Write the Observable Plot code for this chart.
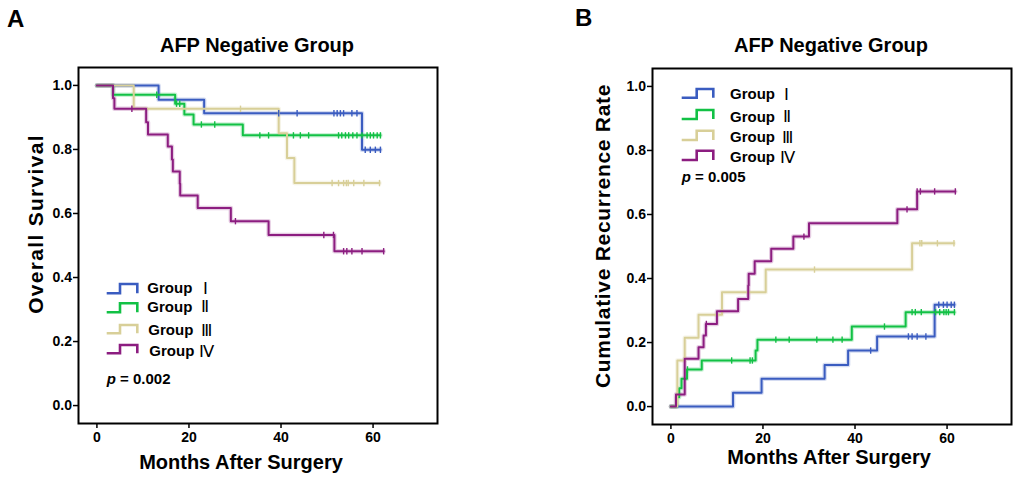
<!DOCTYPE html>
<html><head><meta charset="utf-8">
<script src="https://cdn.jsdelivr.net/npm/d3@7"></script>
<script src="https://cdn.jsdelivr.net/npm/@observablehq/plot@0.6"></script>
<style>
body{margin:0;background:#fff;}
#wrap{position:relative;width:1024px;height:478px;overflow:hidden;background:#fff;}
#wrap svg{position:absolute;top:0;}
</style></head><body><div id="wrap"></div>
<script>
// ---------- shared ----------
const groups = ["Group Ⅰ", "Group Ⅱ", "Group Ⅲ", "Group Ⅳ"];
const groupWord = "Group";
const numerals = ["Ⅰ", "Ⅱ", "Ⅲ", "Ⅳ"];
const colors = ["#3a5cc0", "#12c145", "#d8cf98", "#8c1d80"];
const xTicks = [0, 20, 40, 60];
const yTicks = [0, 0.2, 0.4, 0.6, 0.8, 1.0];

// ---------- Panel A: Overall survival ----------
const titleA = "AFP Negative Group";
const yLabelA = "Overall Survival";
const xLabelA = "Months After Surgery";
const pTextA = "0.002";
const osT1 = [0, 13.4, 23.3, 57.6, 61.6];
const osS1 = [1.0, 0.955, 0.913, 0.799, 0.799];
const osC1 = [39.5, 43.5, 51.5, 52.2, 52.9, 53.6, 55.4, 56.5, 58.3, 59.4, 60.5, 61.6];
const osT2 = [0, 3.5, 17.0, 19.0, 21.0, 31.7, 61.6];
const osS2 = [1.0, 0.971, 0.943, 0.909, 0.878, 0.844, 0.844];
const osC2 = [13.0, 17.3, 18.0, 22.7, 25.6, 35.4, 37.3, 42.7, 44.2, 46.0, 52.5, 53.2, 54.0, 54.7, 55.6, 56.5, 57.6, 58.7, 59.4, 60.1, 60.9, 61.6];
const osT3 = [0, 8.0, 39.5, 41.3, 42.9, 61.4];
const osS3 = [1.0, 0.927, 0.851, 0.773, 0.695, 0.695];
const osC3 = [31.2, 51.1, 52.5, 53.6, 54.2, 54.6, 55.8, 58.0, 61.4];
const osT4 = [0, 3.5, 3.8, 10.7, 11.1, 15.4, 16.3, 16.5, 18.0, 18.1, 21.9, 29.1, 37.3, 51.6, 62.3];
const osS4 = [1.0, 0.960, 0.927, 0.885, 0.847, 0.809, 0.769, 0.731, 0.693, 0.656, 0.617, 0.576, 0.533, 0.482, 0.482];
const osC4 = [7.6, 30.1, 49.3, 51.4, 53.6, 54.3, 55.4, 57.6, 62.3];

// ---------- Panel B: Cumulative recurrence ----------
const titleB = "AFP Negative Group";
const yLabelB = "Cumulative Recurrence Rate";
const xLabelB = "Months After Surgery";
const pTextB = "0.005";
const rcT1 = [0, 13.5, 19.7, 33.4, 38.5, 44.8, 57.3, 61.6];
const rcS1 = [0, 0.043, 0.087, 0.130, 0.175, 0.219, 0.318, 0.318];
const rcC1 = [43.4, 51.6, 52.4, 53.5, 55.4, 58.2, 59.2, 60.0, 60.9, 61.6];
const rcT2 = [0, 1.3, 1.8, 2.3, 3.5, 6.7, 18.4, 18.8, 39.3, 51.0, 61.6];
const rcS2 = [0, 0.029, 0.057, 0.087, 0.116, 0.144, 0.175, 0.209, 0.250, 0.295, 0.295];
const rcC2 = [3.6, 13.2, 17.2, 17.7, 22.8, 25.7, 31.7, 35.2, 37.2, 46.4, 52.4, 53.1, 54.4, 57.5, 58.4, 59.3, 59.8, 60.3, 61.6];
const rcT3 = [0, 1.4, 3.0, 6.0, 11.1, 20.6, 52.4, 61.5];
const rcS3 = [0, 0.144, 0.215, 0.287, 0.357, 0.428, 0.510, 0.510];
const rcC3 = [31.2, 54.1, 54.5, 57.9, 61.5];
const rcT4 = [0, 1.1, 3.0, 6.0, 7.1, 7.6, 10.0, 14.6, 16.8, 16.9, 18.2, 21.8, 26.6, 30.0, 49.2, 53.5, 61.8];
const rcS4 = [0, 0.0375, 0.149, 0.185, 0.222, 0.258, 0.298, 0.336, 0.378, 0.415, 0.454, 0.493, 0.531, 0.573, 0.616, 0.672, 0.672];
const rcC4 = [7.7, 28.9, 51.3, 53.5, 54.2, 57.3, 61.8];

// ---------- helpers ----------
function levelAt(T, S, c) {
  let v = S[0];
  for (let i = 0; i < T.length; i++) if (T[i] <= c + 1e-9) v = S[i];
  return v;
}
function buildRows(series) {
  const rows = [], cens = [];
  series.forEach(([T, S, C], k) => {
    T.forEach((t, i) => rows.push({g: groups[k], t, v: S[i]}));
    C.forEach(c => cens.push({g: groups[k], t: c, v: levelAt(T, S, c)}));
  });
  return {rows, cens};
}
const tickSym = {draw(ctx, size) { const r = Math.sqrt(size / Math.PI); ctx.moveTo(0, -r); ctx.lineTo(0, r); }};
const FONT = "'Liberation Sans', Arial, Helvetica, sans-serif";

function panel(series, width, marginRight, marginTop, marginBottom) {
  const {rows, cens} = buildRows(series);
  return Plot.plot({
    width, height: 478,
    marginLeft: 78, marginRight, marginTop, marginBottom,
    x: {domain: [-4, 74]},
    y: {domain: [-0.056, 1.056]},
    color: {domain: groups, range: colors},
    style: {fontFamily: FONT, background: "transparent", color: "black", overflow: "visible"},
    marks: [
      Plot.line(rows, {x: "t", y: "v", z: "g", stroke: "g", curve: "step-after", strokeWidth: 4.5, strokeOpacity: 0.22}),
      Plot.line(rows, {x: "t", y: "v", z: "g", stroke: "g", curve: "step-after", strokeWidth: 2}),
      Plot.dot(cens, {x: "t", y: "v", stroke: "g", fill: "none", symbol: tickSym, r: 3.2, strokeWidth: 1.4}),
      Plot.axisX({ticks: xTicks, tickSize: 5, tickPadding: 4, fontSize: 14, fontWeight: "bold", label: null, strokeWidth: 1.5}),
      Plot.axisY({ticks: yTicks, tickFormat: d3.format(".1f"), tickSize: 5, tickPadding: 1.5, fontSize: 14, fontWeight: "bold", label: null, strokeWidth: 1.5}),
      Plot.frame({stroke: "black", strokeWidth: 2})
    ]
  });
}

const wrap = document.getElementById("wrap");
const svgA = panel([[osT1, osS1, osC1], [osT2, osS2, osC2], [osT3, osS3, osC3], [osT4, osS4, osC4]], 512, 75, 67, 55);
svgA.style.left = "0px";
wrap.appendChild(svgA);
const svgB = panel([[rcT1, rcS1, rcC1], [rcT2, rcS2, rcC2], [rcT3, rcS3, rcC3], [rcT4, rcS4, rcC4]], 450, 13, 68, 54);
svgB.style.left = "574px";
wrap.appendChild(svgB);

// ---------- text overlay: letters, titles, axis labels, legends ----------
const ov = d3.select(wrap).append("svg").attr("width", 1024).attr("height", 478)
  .style("left", "0px").style("font-family", FONT).style("pointer-events", "none");
function txt(x, y, s, size, opts = {}) {
  const t = ov.append("text").attr("x", x).attr("y", y).attr("font-size", size)
    .attr("font-weight", opts.weight || "bold").attr("fill", "black")
    .attr("text-anchor", opts.anchor || "start").text(s);
  if (opts.ls) t.attr("letter-spacing", opts.ls);
  if (opts.family) t.attr("font-family", opts.family);
  if (opts.transform) t.attr("transform", opts.transform).attr("x", 0).attr("y", 0);
  return t;
}
txt(7, 27, "A", 24);
txt(575, 26, "B", 24);
txt(257, 52, titleA, 20, {anchor: "middle"});
txt(831, 52, titleB, 20, {anchor: "middle"});
txt(241, 469, xLabelA, 20, {anchor: "middle"});
txt(829, 464, xLabelB, 20, {anchor: "middle"});
txt(0, 0, yLabelA, 21, {anchor: "middle", ls: 1.3, transform: "translate(43,224) rotate(-90)"});
txt(0, 0, yLabelB, 21, {anchor: "middle", ls: 0.7, transform: "translate(610,236) rotate(-90)"});

function legend(icons, texts, numX, pPos, pVal) {
  icons.forEach(([x0, xs, x1, top, bot], k) => {
    ov.append("path")
      .attr("d", `M${x0},${bot}H${xs}V${top}H${x1}V${bot}`)
      .attr("fill", "none").attr("stroke", colors[k]).attr("stroke-width", 2.6)
      .attr("stroke-linejoin", "miter");
    const [tx, ty] = texts[k];
    txt(tx, ty, groupWord, 15);
    txt(numX[k], ty + 0.5, numerals[k], 16.5, {weight: "normal", family: "'DejaVu Sans', sans-serif"});
  });
  const p = ov.append("text").attr("x", pPos[0]).attr("y", pPos[1]).attr("font-size", 15)
    .attr("font-weight", "bold").attr("fill", "black");
  p.append("tspan").attr("font-style", "italic").text("p");
  p.append("tspan").text(" = " + pVal);
}
legend(
  [[106.7, 120, 137.3, 284, 293.3], [106.7, 120, 137.3, 303.3, 312.3], [106.7, 120, 137.3, 325, 333.3], [106.7, 120, 137.3, 345, 353.3]],
  [[147.3, 293.3], [147.3, 311.7], [148.3, 335], [149.3, 356]],
  [203, 201, 201, 199],
  [106.7, 384], pTextA
);
legend(
  [[681.7, 696.7, 713.3, 89, 97.7], [681.7, 696.7, 713.3, 110, 119], [681.7, 696.7, 713.3, 130.7, 140], [681.7, 696.7, 713.3, 150.7, 160]],
  [[730, 99], [730, 121.7], [730, 142.3], [730, 162.3]],
  [784, 783, 782, 780],
  [681.7, 181.7], pTextB
);
</script></body></html>
